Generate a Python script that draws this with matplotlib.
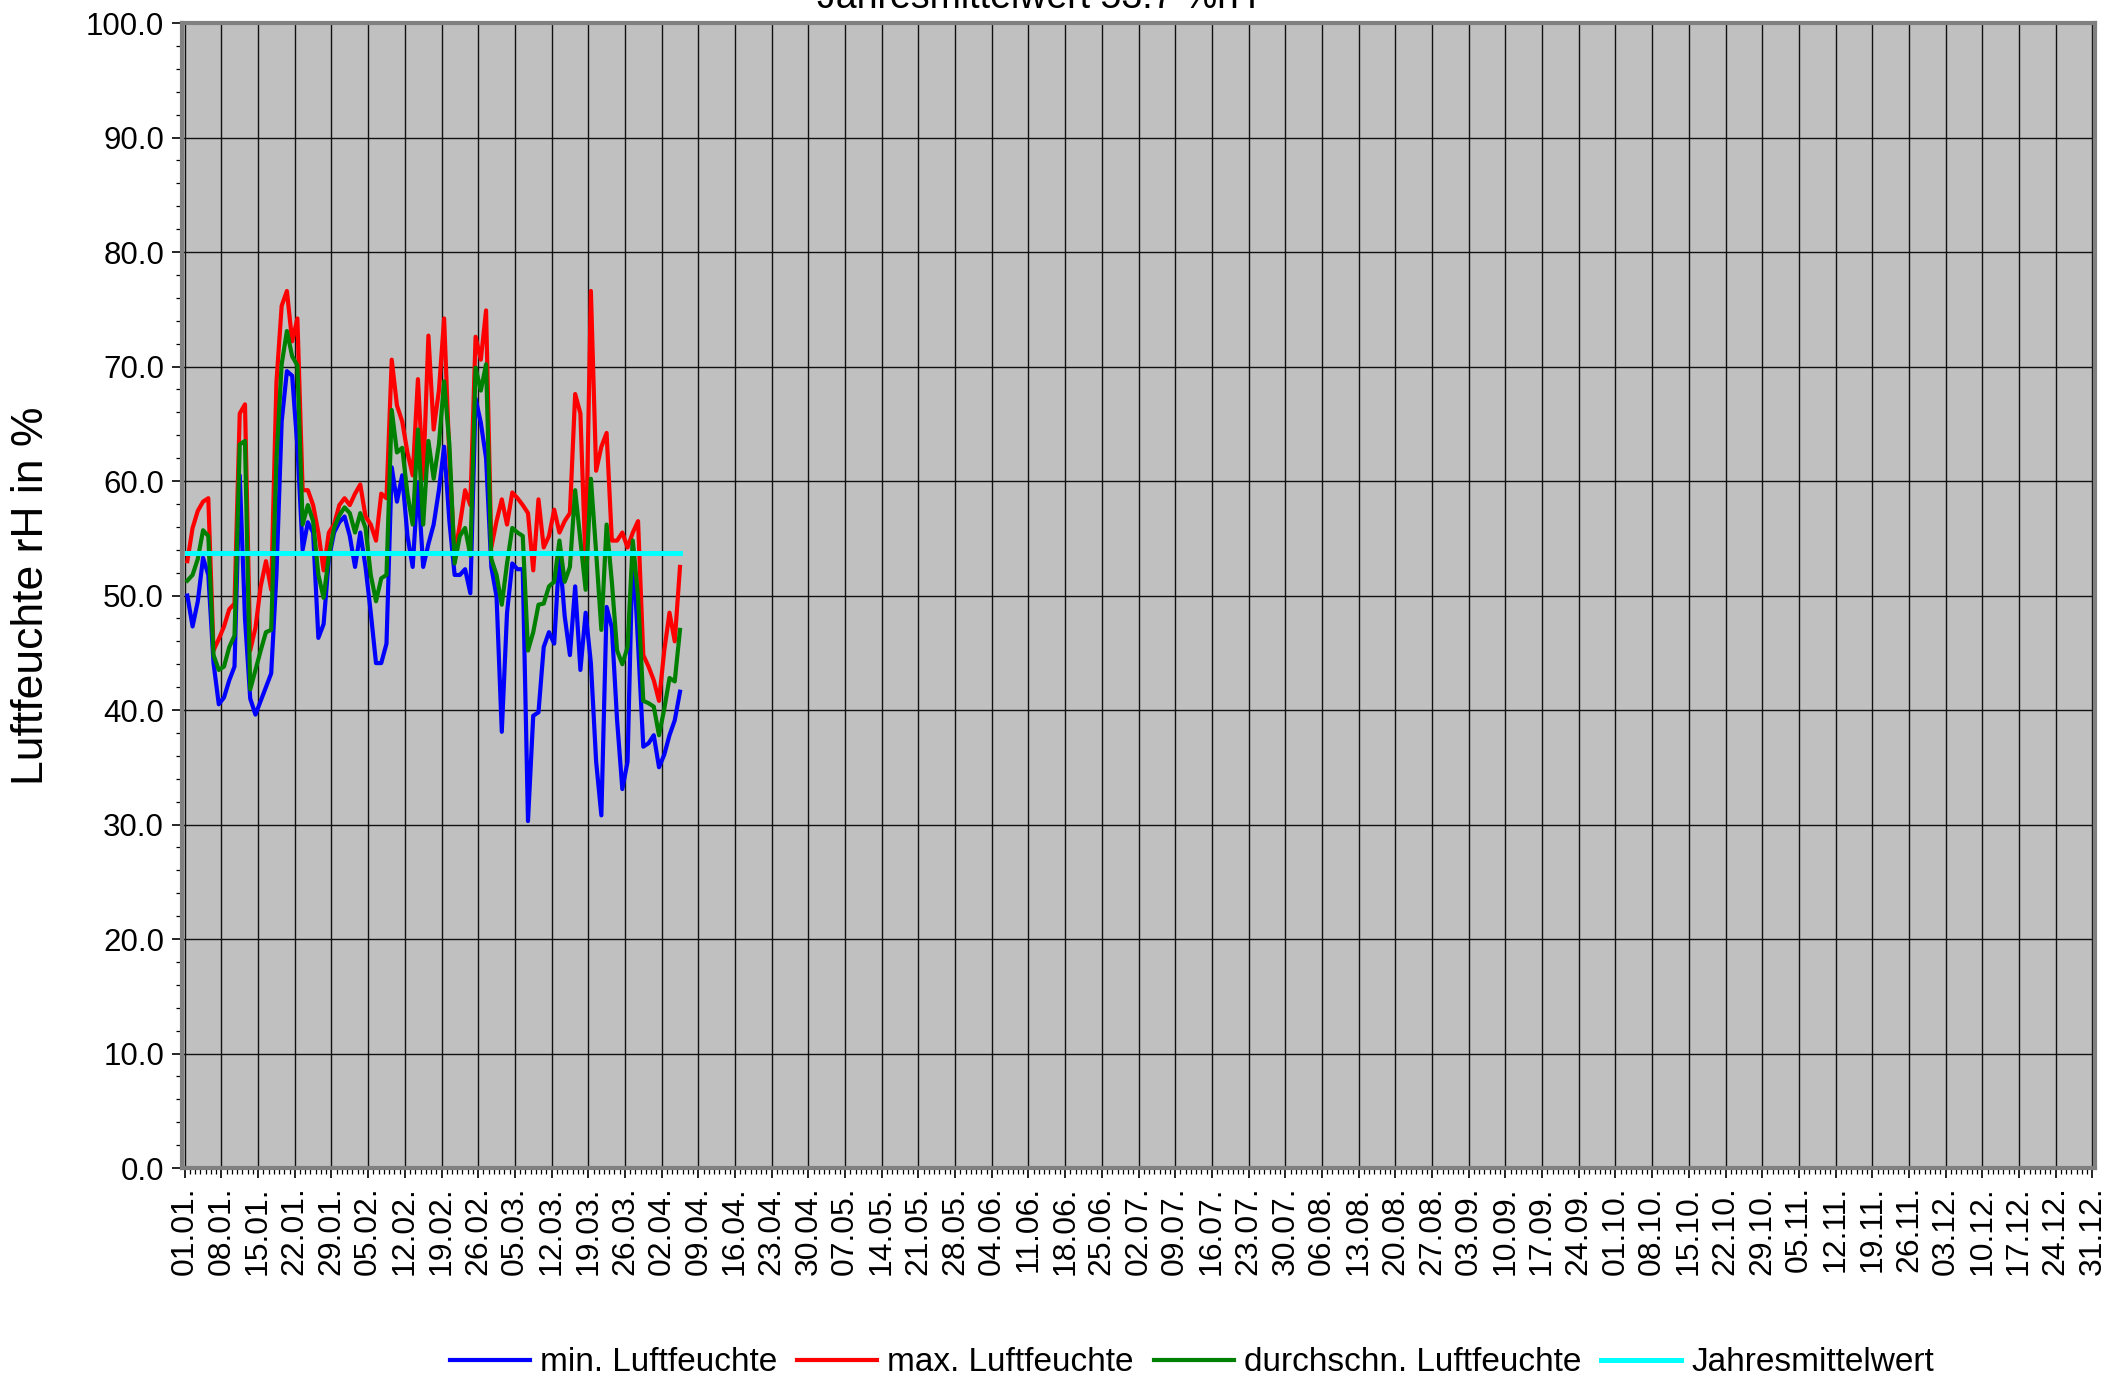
#!/usr/bin/env python3
# -*- coding: utf-8 -*-

import datetime
import matplotlib
matplotlib.use('Agg')
import matplotlib.pyplot as plt
from matplotlib.ticker import MultipleLocator, FixedLocator

plt.rcParams['font.family'] = ['Liberation Sans', 'DejaVu Sans']

# daily values from 01.01. on (day index 0 = 01.01.)
rh_min = [50.0, 47.3, 49.5, 53.3, 51.8, 44.1, 40.5, 41.1, 42.6, 43.8,
          60.5, 48.0, 41.0, 39.6, 40.8, 42.0, 43.2, 51.8, 65.2, 69.6,
          69.2, 63.0, 54.0, 56.4, 55.5, 46.3, 47.5, 53.2, 55.5, 56.4,
          56.9, 55.2, 52.5, 55.5, 52.5, 48.5, 44.1, 44.1, 45.8, 61.2,
          58.2, 60.5, 55.2, 52.5, 59.9, 52.5, 54.5, 56.2, 59.2, 63.0,
          56.5, 51.8, 51.8, 52.3, 50.2, 67.2, 65.1, 62.0, 52.5, 49.9,
          38.1, 48.5, 52.8, 52.3, 52.3, 30.3, 39.5, 39.8, 45.5, 46.8,
          45.8, 53.8, 48.2, 44.8, 50.8, 43.5, 48.5, 44.1, 35.5, 30.8,
          49.0, 47.2, 39.1, 33.1, 35.5, 54.5, 45.8, 36.8, 37.1, 37.8,
          35.0, 36.1, 37.8, 39.1, 41.6]

rh_max = [53.0, 55.9, 57.4, 58.2, 58.5, 45.2, 46.2, 47.3, 48.8, 49.3,
          65.9, 66.7, 45.2, 47.2, 50.8, 53.0, 50.5, 68.6, 75.3, 76.6,
          72.2, 74.2, 59.2, 59.2, 57.9, 55.5, 52.2, 55.5, 56.2, 57.9,
          58.5, 57.9, 58.9, 59.7, 56.9, 56.2, 54.8, 58.9, 58.5, 70.6,
          66.6, 65.2, 62.5, 60.5, 68.9, 60.2, 72.7, 64.5, 67.9, 74.2,
          62.0, 53.5, 56.2, 59.2, 57.9, 72.6, 70.6, 74.9, 54.2, 56.5,
          58.4, 56.2, 59.0, 58.5, 57.9, 57.2, 52.2, 58.4, 54.2, 55.2,
          57.5, 55.5, 56.5, 57.2, 67.6, 65.9, 52.5, 76.6, 60.9, 63.0,
          64.2, 54.8, 54.8, 55.5, 54.2, 55.5, 56.5, 44.8, 43.8, 42.6,
          40.8, 45.2, 48.5, 46.0, 52.5]

rh_avg = [51.3, 51.8, 53.2, 55.7, 55.2, 44.8, 43.5, 43.8, 45.5, 46.5,
          63.2, 63.5, 41.8, 43.5, 45.2, 46.8, 47.0, 61.9, 70.2, 73.1,
          70.9, 70.1, 56.2, 57.9, 56.5, 51.8, 49.8, 53.5, 55.9, 57.0,
          57.7, 57.2, 55.5, 57.2, 55.9, 51.8, 49.5, 51.5, 51.8, 66.2,
          62.5, 62.9, 58.9, 56.2, 64.5, 56.2, 63.5, 60.2, 63.2, 68.7,
          63.2, 52.8, 55.2, 55.9, 53.5, 69.9, 67.9, 70.2, 53.2, 51.8,
          49.2, 52.8, 55.9, 55.5, 55.2, 45.2, 46.8, 49.2, 49.3, 50.8,
          51.2, 54.8, 51.2, 52.5, 59.2, 54.8, 50.5, 60.2, 53.8, 47.0,
          56.2, 51.2, 45.2, 44.0, 45.5, 54.8, 49.9, 40.8, 40.6, 40.3,
          37.8, 40.1, 42.8, 42.5, 47.0]

jahresmittel = 53.7

start = datetime.date(2010, 1, 1)
tick_days = list(range(0, 365, 7))
tick_labels = [(start + datetime.timedelta(days=d)).strftime('%d.%m.') for d in tick_days]


def main():
  fig = plt.figure(figsize=(21.1, 13.8), dpi=100)
  ax = fig.add_axes([0.0863, 0.1536, 0.9066, 0.8297])
  ax.set_facecolor('#C0C0C0')

  x = [d + 0.5 for d in range(len(rh_min))]
  ax.plot(x, rh_min, color='#0000FF', lw=3.0, label='min. Luftfeuchte', zorder=3)
  ax.plot(x, rh_max, color='#FF0000', lw=3.0, label='max. Luftfeuchte', zorder=3)
  ax.plot(x, rh_avg, color='#008000', lw=3.0, label='durchschn. Luftfeuchte', zorder=3)
  ax.plot([x[0], x[-1]], [jahresmittel, jahresmittel], color='#00FFFF', lw=3.6,
          label='Jahresmittelwert', zorder=4)

  ax.set_xlim(-0.5, 364.5)
  ax.set_ylim(0, 100)

  ax.xaxis.set_major_locator(FixedLocator(tick_days))
  ax.xaxis.set_minor_locator(MultipleLocator(1))
  ax.set_xticklabels(tick_labels, rotation=90, fontsize=23)
  ax.set_yticks(range(0, 101, 10))
  ax.yaxis.set_minor_locator(MultipleLocator(2))
  ax.set_yticklabels(['%.1f' % v for v in range(0, 101, 10)], fontsize=22.5)

  ax.tick_params(axis='x', which='major', length=7, width=1.2, pad=6, color='black')
  ax.tick_params(axis='x', which='minor', length=4, width=0.9, color='black')
  ax.tick_params(axis='y', which='major', length=7, width=1.2, pad=6, color='black')
  ax.tick_params(axis='y', which='minor', length=4, width=0.9, color='black')

  ax.grid(True, which='major', color='#111111', lw=1.0, zorder=1)
  ax.set_axisbelow(True)
  for s in ax.spines.values():
    s.set_color('#808080')
    s.set_linewidth(3)

  ax.set_ylabel('Luftfeuchte rH in %', fontsize=32, labelpad=24)

  # title sits mostly above the top edge, as in the original export
  fig.text(0.4916, 0.994, 'Jahresmittelwert 53.7 %rH', fontsize=27,
           ha='center', va='baseline')

  fig.legend(loc='center', bbox_to_anchor=(0.565, 0.0125), ncol=4, frameon=False,
             fontsize=24, handlelength=2.4, handletextpad=0.3, columnspacing=0.6)

  fig.savefig('out.png', dpi=100)
  return 0


if __name__ == '__main__':
  main()
